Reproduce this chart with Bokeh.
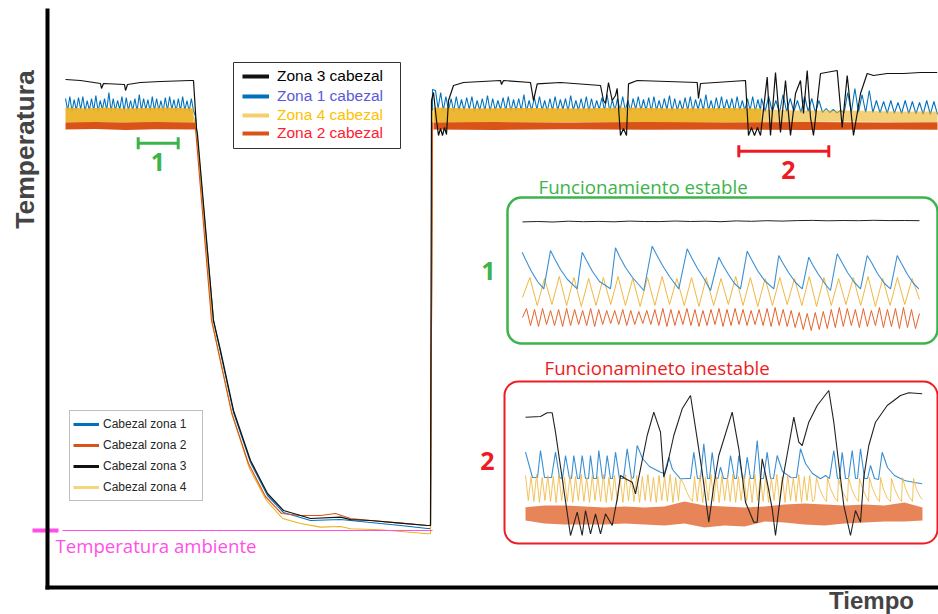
import numpy as np
from bokeh.plotting import figure
from bokeh.models import (Range1d, FixedTicker, Label, Legend, LegendItem,
                          BoxAnnotation, Whisker, TeeHead, ColumnDataSource)
from bokeh.embed import file_html
from bokeh.resources import INLINE

# ======================= DATA (time units / temperature) =======================
# Zona 3 cabezal (black) trace
z3_t = [20, 35, 55, 56, 58, 79, 80, 82, 95, 115, 145, 148, 151, 152, 168, 175, 188, 205, 222, 238,
        255, 265, 295, 305, 325, 355, 382, 385, 386, 388, 391, 393, 395, 397, 399, 401, 403, 408, 418, 455,
        456, 458, 485, 488, 491.7, 515, 555, 558, 560, 563, 566.7, 570, 571.7, 575, 578, 581, 583, 591.7, 651.7, 653,
        655, 700, 703, 706, 709, 712, 715, 721.7, 725, 730, 735, 740, 745, 750, 755, 758, 761.7, 765, 768, 775,
        791.7, 796.7, 801.7, 808, 815, 821.7, 828, 841.7, 858, 875, 891.7]
z3_T = [250.5, 250, 248.5, 246, 248.5, 248, 245, 248, 249, 249.5, 250, 250, 226, 223, 130, 115, 85, 60, 43.5, 35,
        32.5, 31, 31.7, 30.4, 30, 28.7, 27.5, 27.5, 240, 244, 230, 222.5, 226, 222.5, 226.5, 223, 240, 247.5, 249, 250,
        248, 250, 249, 240, 248.3, 249, 247.5, 240, 238.5, 249, 240, 242.5, 246, 222.5, 226, 222.5, 248.3, 250, 249, 241,
        248.5, 250, 222.5, 226.5, 222.5, 226.5, 222.5, 251.7, 222.5, 254, 224, 250, 222.5, 243.5, 250, 233.5, 255, 231.5, 222.5, 253.5,
        255, 226.5, 252.5, 222.5, 243.5, 253.5, 252.5, 253.5, 253.5, 254, 254]

# Zona 1 cabezal (blue): oscillation before the stop, cooling, oscillation after restart
z1_osc1_span = (20, 148)
z1_osc1_T = [241, 235, 242, 234.5, 240.5, 235, 241.5, 235.5, 242, 234.5, 240, 235, 241, 235, 242.5, 234.5,
             240, 235.5, 241, 235, 244, 234.5, 241, 235, 240, 235.5, 242, 234.5, 241.5, 235, 240, 235,
             241, 234.5, 243, 235, 241, 235.5, 240.5, 234.5, 242, 235, 241, 235, 240, 234.5, 241.5, 235,
             242, 235.5, 240.5, 234.5, 241, 235, 242, 235, 240, 234.5, 241, 235]
z1_drop_t = [150, 151, 168, 175, 188, 205, 222, 238, 255, 265, 295, 325, 355, 382, 385, 387]
z1_drop_T = [232, 226, 130, 114, 84, 59, 42.5, 34, 31.5, 30, 30.5, 29, 27.5, 26, 26, 245.5]
z1_osc2_span = (390, 715)
z1_osc2_T = [245, 236, 244, 235, 242, 235, 241, 234.5, 242, 235, 240.5, 235, 241.5, 235.5, 242, 234.5,
             240, 235, 241, 235, 242.5, 234.5, 241, 235, 240, 235.5, 241.5, 235, 242, 234.5, 240.5, 235,
             241, 235, 243, 234.5, 240, 235, 241.5, 235.5, 242, 235, 240, 234.5, 241, 235, 242, 235,
             240.5, 235.5, 241, 234.5, 242.5, 235, 240, 235, 241, 235, 242, 234.5, 241, 235, 240, 235.5,
             241.5, 235, 243, 234.5, 240.5, 235, 241, 235, 242, 235, 240, 234.5, 241, 235.5, 242, 235,
             240.5, 235, 241.5, 234.5, 242, 235, 240, 235, 241, 235.5, 242.5, 234.5, 241, 235, 240, 235,
             241.5, 235, 242, 234.5, 240.5, 235.5, 241, 235, 243, 235, 240, 234.5, 241.5, 235, 242, 235,
             240.5, 235.5, 241, 234.5, 242, 235, 240, 235, 241, 235, 242, 234.5, 240.5, 235]
z1_osc3_span = (716, 892)
z1_osc3_T = [241, 234.5, 242, 234.5, 240, 234, 243, 234.5, 241, 234.5, 240, 234, 242, 234.5, 241, 234,
             240, 234, 236, 234, 235.5, 233.8, 235, 233.8, 244, 234, 246, 234, 243, 234, 245, 234,
             240, 233.8, 239.5, 233.6, 240, 233.6, 239, 233.5, 240, 233.4, 239.5, 233.3, 239, 233.2,
             240, 233.1, 239.5, 233]

# Zona 4 cabezal (yellow): cooling trace + steady bands
z4_trace_t = [148, 150, 151, 167, 174, 187, 204, 221, 237, 255, 275, 295, 305, 335, 382, 385, 387]
z4_trace_T = [232, 228, 225, 129, 112.5, 82.5, 56, 40, 31, 28.5, 26.7, 27, 25.9, 25.4, 23.4, 23.5, 235]
z4_band1_t = [20, 40, 60, 80, 100, 120, 148]
z4_band1_hi = [236.5, 236, 236.5, 236, 236.3, 236.5, 236]
z4_band1_lo = [229, 228.8, 229.2, 229, 228.8, 229, 229]
z4_band2_t = [388, 430, 480, 530, 580, 630, 680, 716]
z4_band2_hi = [236.5, 236, 236.3, 236, 236.5, 236, 236.3, 236]
z4_band2_lo = [229, 228.8, 229, 229.2, 229, 228.8, 229, 229]
z4_band3_t = [716, 760, 800, 850, 892]
z4_band3_hi = [235.5, 235, 235, 234.5, 234.5]
z4_band3_lo = [229.3, 229.3, 229.5, 229.3, 229.3]

# Zona 2 cabezal (orange): cooling trace + steady bands
z2_trace_t = [148, 150, 166, 173, 186, 203, 220, 236, 255, 275, 290, 305, 325, 355, 382, 385, 387]
z2_trace_T = [228, 226, 130, 114, 84, 58.5, 42, 33.5, 32.5, 32.5, 33.5, 31, 30, 28.7, 27.5, 27.5, 229]
z2_band1_t = [20, 50, 80, 110, 150]
z2_band1_hi = [229, 229.3, 229, 229.2, 229]
z2_band1_lo = [225.5, 225.8, 225.3, 225.6, 225.5]
z2_band2_t = [388, 450, 520, 600, 680, 760, 840, 892]
z2_band2_hi = [229, 229.2, 229, 229.3, 229, 229.2, 229, 229.1]
z2_band2_lo = [225.5, 225.3, 225.6, 225.4, 225.5, 225.3, 225.5, 225.4]

ambient_temp = 25
ambient_window = (17, 387)
ambient_mark = (-13, 13)

# zoomed regions on the time axis and the level of their markers
region_start = [92.7, 693.3]
region_end = [132.7, 783.3]
region_level = [218.6, 214.6]

# ---- Inset 1: stable operation (local zoom units) ----
ins1_black_T = [121.6, 122.0, 121.5, 122.3, 121.8, 122.1, 121.7, 122.4, 122.0, 121.9, 122.5, 122.0, 122.3, 121.8,
                122.6, 122.2, 122.8, 122.4, 122.9, 123.1, 122.7, 123.0, 122.8, 123.2, 122.9, 123.0, 122.8]
ins1_blue_t = [14.7, 18, 24, 30, 36.3, 43, 47, 53, 60, 69.7, 74.7, 79, 85, 92, 103, 108, 112, 118, 125, 136.3,
               144.7, 149, 155, 162, 171.3, 179.7, 184, 190, 197, 203, 211.3, 215, 221, 227, 233, 239.7, 244, 250, 257, 266.3,
               271.3, 275, 281, 288, 294.7, 301.3, 305, 311, 318, 323, 329.7, 334, 340, 347, 353, 359.7, 364, 370, 377, 383,
               389.7, 394, 400, 406, 411.3]
ins1_blue_T = [91.3, 84, 72, 62, 54.7, 93, 85, 74, 64, 54.7, 91.3, 83, 72, 62, 54.7, 95.7, 87, 76, 66, 53,
               97.3, 89, 78, 67, 54.7, 94.7, 86, 75, 64, 53, 86.3, 79, 69, 60, 54.7, 92.3, 84, 73, 63, 54.7,
               88, 81, 71, 61, 54.7, 86.3, 79, 69, 59, 53, 89.7, 82, 71, 61, 54.7, 88, 81, 70, 60, 54.7,
               88, 80, 69, 60, 54.7]
ins1_yellow_T = [46, 66, 38, 65, 39, 67, 38, 66, 37, 65, 38, 66, 39, 67, 38, 65, 37, 66, 38, 67, 39, 65, 38, 66,
                 37, 66, 38, 65, 39, 67, 38, 66, 37, 65, 38, 66, 39, 65, 38, 67, 37, 66, 38, 65, 39, 66, 38, 67,
                 37, 65, 38, 66, 39, 65, 44]
ins1_orange_T = [26, 35, 18, 34, 17, 35, 19, 33, 18, 34, 17, 35, 18, 34, 19, 33, 18, 35, 17, 34, 19, 33, 20, 33,
                 19, 34, 18, 33, 19, 32, 20, 33, 19, 34, 18, 35, 17, 34, 18, 33, 19, 35, 18, 34, 17, 33, 18, 34,
                 19, 35, 17, 34, 18, 35, 19, 34, 18, 33, 19, 34, 18, 35, 17, 36, 18, 34, 17, 33, 16, 31, 14, 30,
                 13, 31, 14, 32, 15, 34, 16, 36, 17, 35, 18, 34, 16, 35, 17, 33, 18, 36, 16, 34, 17, 35, 15, 36,
                 16, 34, 15, 30]

# ---- Inset 2: unstable operation (local zoom units) ----
ins2_black_t = [21, 36, 42.7, 47.7, 51, 66, 72.7, 77.7, 81, 86, 91, 96, 101, 107.7, 112.7, 116, 121, 127.7, 131, 136,
                142.7, 149.3, 156, 159.3, 162.7, 169.3, 177.7, 186, 192.7, 197.7, 204.3, 209.3, 214.3, 227.7, 234.3,
                241, 249.3, 252.7, 257.7, 262.7, 267.7, 271, 277.7, 284.3, 289.3, 294.3, 297.7, 304.3, 312.7, 324.3,
                329.3, 339.3, 346, 351, 356, 359.3, 364.3, 371, 382.7, 396, 404.3, 417.7]
ins2_black_T = [126.3, 127, 130.7, 130.7, 111.3, 8, 31.3, 8, 33, 9.7, 29.7, 9.7, 29.7, 18, 44.7, 68, 64.7, 61.3, 49.7, 74.7,
                108, 131.3, 111.3, 66.3, 78, 108, 134.7, 148, 104.7, 71.3, 21.3, 58, 88, 131.3, 94.7,
                41.3, 21.3, 21.3, 84.7, 61.3, 34.7, 8, 61.3, 98, 126.3, 101.3, 98, 121.3, 138, 153,
                121.3, 38, 8, 33, 21.3, 66.3, 98, 121.3, 138, 148, 150.7, 149.7]
ins2_blue_t = [21, 28, 33, 36, 40, 47, 51, 55, 58, 61, 65, 67, 69.3, 73, 75, 77.7, 81, 84, 86, 89, 92, 94.3, 98, 100,
               102.7, 106, 108, 111, 115, 119, 122.7, 127, 129, 132.7, 138, 145, 156, 160, 164.3, 168, 176, 184, 186,
               189.3, 193, 196, 199.3, 203, 205, 207.7, 211, 213.5, 216, 219, 223, 226, 230, 232, 234.3, 238, 240,
               242.7, 246, 249, 252.7, 256, 259, 262.7, 266, 269, 272.7, 278, 286, 292, 296, 301, 308, 316, 321, 325,
               329.3, 333, 335, 337.7, 341, 344, 347.7, 351, 353, 356, 360, 363, 366, 370, 374, 377.7, 383, 390, 400,
               410, 417.7]
ins2_blue_T = [91.3, 66, 66, 93, 66, 66, 91.3, 66, 65, 88, 65, 65, 88, 65, 65, 88, 65, 65, 88, 65, 65, 93, 65, 65,
               88, 65, 65, 91.3, 65, 65, 94.7, 65, 66, 98, 85, 77, 71.3, 70, 86.3, 74, 64.7, 65, 65,
               91.3, 65, 65, 99.7, 65, 65, 91.3, 65, 65, 76.3, 65, 65, 88, 65, 65, 88, 65, 65,
               86.3, 65, 65, 103, 65, 65, 91.3, 65, 65, 88, 72, 66.3, 66, 94.7, 80, 70, 64.7, 68, 65,
               93, 65, 65, 91.3, 65, 65, 93, 65, 65, 94.7, 65, 65, 78, 65, 64, 91.3, 76, 68, 63,
               61, 59.7]
ins2_yel_a_span = (21, 174)
ins2_yel_a_T = [68, 43, 67, 42, 69, 41, 66, 43, 68, 42, 67, 41, 69, 43, 66, 42, 68, 41, 67, 43, 69, 42, 66, 41,
                68, 43, 67, 42, 69, 41, 66, 43, 68, 42, 67, 41, 69, 43, 66, 42, 68, 41, 67, 43, 69, 42, 66, 41,
                68, 43, 67, 42, 69, 41, 66, 43]
ins2_yel_b_t = [176, 179, 182, 185, 188]
ins2_yel_b_T = [65, 60, 52, 46, 42]
ins2_yel_c_span = (190, 308)
ins2_yel_c_T = [67, 42, 68, 41, 66, 43, 69, 42, 67, 41, 68, 43, 66, 42, 69, 41, 67, 43, 68, 42, 66, 41,
                69, 43, 67, 42, 68, 41, 66, 43, 69, 42, 67, 41, 68, 43, 66, 42, 69, 41, 67, 43, 68, 42]
ins2_yel_d_t = [310, 312, 315, 319, 322, 323, 326, 330, 333, 334, 337, 341, 343, 344, 347, 351, 354, 355, 358, 362,
                364, 365, 368, 372, 375, 376, 379, 383, 386, 387, 390, 394, 397, 398, 401, 405, 408, 409, 412, 416, 418]
ins2_yel_d_T = [44, 66, 55, 46, 42, 66, 55, 46, 42, 65, 54, 46, 42, 66, 55, 46, 42, 65, 55, 46,
                42, 66, 55, 46, 42, 66, 54, 45, 42, 65, 55, 46, 42, 66, 55, 46, 42, 65, 54, 46, 44]
ins2_orange_t = [21, 40, 60, 80, 100, 120, 140, 160, 180, 200, 220, 240, 260, 280, 300, 320, 340, 360, 380, 400, 418]
ins2_orange_hi = [36.3, 38, 38, 37, 36, 37, 36, 37, 42, 38, 37, 36, 37, 39, 40, 39, 38, 39, 38, 41, 36]
ins2_orange_lo = [23, 20, 19, 19, 19, 20, 19, 18, 20, 16, 18, 17, 22, 21, 19, 18, 20, 21, 22, 22, 23]

# ======================= STYLE =======================
BLUE, ORANGE, YELLOW, BLACK = "#0072BD", "#D95319", "#EDB120", "#111111"
GREEN, RED, MAGENTA = "#3cb44b", "#ed1c24", "#ff4fe6"

p = figure(width=938, height=614, x_range=Range1d(-45, 893), y_range=Range1d(-17, 290),
           output_backend="svg", toolbar_location=None, min_border=0)
p.grid.visible = False
p.outline_line_color = None
for ax in (p.xaxis[0], p.yaxis[0]):
    ax.ticker = FixedTicker(ticks=[])
    ax.axis_line_width = 4
    ax.axis_line_color = "black"
    ax.major_tick_line_color = None
    ax.minor_tick_line_color = None
    ax.major_tick_out = 0
    ax.major_tick_in = 0
    ax.minor_tick_out = 0
    ax.minor_tick_in = 0
    ax.major_label_text_font_size = "0px"
    ax.major_label_standoff = 0
p.xaxis.fixed_location = -3.5
p.yaxis.fixed_location = 2
p.xaxis.bounds = (0, 893)
p.yaxis.bounds = (-4.5, 286)

# ---- main chart ----
blue_t = (list(np.linspace(*z1_osc1_span, len(z1_osc1_T))) + z1_drop_t +
          list(np.linspace(*z1_osc2_span, len(z1_osc2_T))) + list(np.linspace(*z1_osc3_span, len(z1_osc3_T))))
blue_T = z1_osc1_T + z1_drop_T + z1_osc2_T + z1_osc3_T
p.line(blue_t, blue_T, line_color=BLUE, line_width=1.1)

p.varea(x=z4_band1_t, y1=z4_band1_lo, y2=z4_band1_hi, fill_color=YELLOW, fill_alpha=0.92)
p.varea(x=z4_band2_t, y1=z4_band2_lo, y2=z4_band2_hi, fill_color=YELLOW, fill_alpha=0.92)
p.varea(x=z4_band3_t, y1=z4_band3_lo, y2=z4_band3_hi, fill_color=YELLOW, fill_alpha=0.6)
p.line(z4_trace_t, z4_trace_T, line_color=YELLOW, line_width=1.1)

p.varea(x=z2_band1_t, y1=z2_band1_lo, y2=z2_band1_hi, fill_color=ORANGE)
p.varea(x=z2_band2_t, y1=z2_band2_lo, y2=z2_band2_hi, fill_color=ORANGE)
p.line(z2_trace_t, z2_trace_T, line_color=ORANGE, line_width=1.1)

p.line(z3_t, z3_T, line_color=BLACK, line_width=1.2)

# ambient temperature
p.segment(x0=[ambient_window[0]], y0=[ambient_temp], x1=[ambient_window[1]], y1=[ambient_temp],
          line_color=MAGENTA, line_width=1.2)
p.segment(x0=[ambient_mark[0]], y0=[ambient_temp], x1=[ambient_mark[1]], y1=[ambient_temp],
          line_color=MAGENTA, line_width=4)
p.add_layout(Label(x=10, y=17.5, text="Temperatura ambiente", text_color=MAGENTA, text_font="Open Sans",
                   text_font_size="18.6px", text_baseline="middle", text_align="left"))

# region markers
for i, col in enumerate([GREEN, RED]):
    src = ColumnDataSource(dict(base=[region_level[i]], lower=[region_start[i]], upper=[region_end[i]]))
    p.add_layout(Whisker(source=src, base="base", lower="lower", upper="upper", dimension="width",
                         line_color=col, line_width=3,
                         upper_head=TeeHead(size=12, line_color=col, line_width=3),
                         lower_head=TeeHead(size=12, line_color=col, line_width=3)))
p.add_layout(Label(x=112.3, y=209.5, text="1", text_color=GREEN, text_font="Open Sans", text_font_style="bold",
                   text_font_size="25px", text_align="center", text_baseline="middle"))
p.add_layout(Label(x=743, y=205.5, text="2", text_color=RED, text_font="Open Sans", text_font_style="bold",
                   text_font_size="25px", text_align="center", text_baseline="middle"))

# ---- inset 1 ----
p.add_layout(BoxAnnotation(left=462, right=892, top=191.5, bottom=118.5, fill_color=None, fill_alpha=0,
                           line_color=GREEN, line_alpha=1, line_width=2.5, border_radius=14))
p.add_layout(Label(x=493, y=197, text="Funcionamiento estable", text_color=GREEN, text_font="Open Sans",
                   text_font_size="18.7px", text_baseline="middle"))
p.add_layout(Label(x=443, y=155, text="1", text_color=GREEN, text_font="Open Sans", text_font_style="bold",
                   text_font_size="25px", text_align="center", text_baseline="middle"))
ins1 = p.subplot(x_source=Range1d(0, 430), y_source=Range1d(0, 146),
                 x_target=Range1d(462, 892), y_target=Range1d(118.5, 191.5))
ins1.line(list(np.linspace(15, 412, len(ins1_black_T))), ins1_black_T, line_color="#222222", line_width=1)
ins1.line(list(np.linspace(15, 412, len(ins1_yellow_T))), ins1_yellow_T, line_color="#F0B843", line_width=1)
ins1.line(list(np.linspace(15, 412, len(ins1_orange_T))), ins1_orange_T, line_color="#E4652E", line_width=1)
ins1.line(ins1_blue_t, ins1_blue_T, line_color="#3A8FD3", line_width=1.1)

# ---- inset 2 ----
p.add_layout(BoxAnnotation(left=459, right=892, top=99.5, bottom=18.5, fill_color=None, fill_alpha=0,
                           line_color=RED, line_alpha=1, line_width=2, border_radius=14))
p.add_layout(Label(x=499, y=106.5, text="Funcionamineto inestable", text_color=RED, text_font="Open Sans",
                   text_font_size="18.7px", text_baseline="middle"))
p.add_layout(Label(x=442, y=60, text="2", text_color=RED, text_font="Open Sans", text_font_style="bold",
                   text_font_size="25px", text_align="center", text_baseline="middle"))
ins2 = p.subplot(x_source=Range1d(0, 434), y_source=Range1d(0, 162),
                 x_target=Range1d(459, 893), y_target=Range1d(18.5, 99.5))
ins2.varea(x=ins2_orange_t, y1=ins2_orange_lo, y2=ins2_orange_hi, fill_color="#E2672E", fill_alpha=0.8)
ins2.line(ins2_blue_t, ins2_blue_T, line_color="#3A8FD3", line_width=1.1)
yel_t = (list(np.linspace(*ins2_yel_a_span, len(ins2_yel_a_T))) + ins2_yel_b_t +
         list(np.linspace(*ins2_yel_c_span, len(ins2_yel_c_T))) + ins2_yel_d_t)
yel_T = ins2_yel_a_T + ins2_yel_b_T + ins2_yel_c_T + ins2_yel_d_T
ins2.line(yel_t, yel_T, line_color="#F0B843", line_width=1, line_alpha=0.85)
ins2.line(ins2_black_t, ins2_black_T, line_color="#222222", line_width=1.1)

# ---- axis titles ----
p.add_layout(Label(x=-21, y=215.5, text="Temperatura", angle=np.pi / 2, text_font="Liberation Sans",
                   text_font_style="bold", text_font_size="26.5px", text_align="center", text_baseline="middle"))
p.add_layout(Label(x=826, y=-10, text="Tiempo", text_font="Liberation Sans", text_font_style="bold",
                   text_font_size="24px", text_align="center", text_baseline="middle"))

# ---- legends ----
top_names = ["Zona 3 cabezal", "Zona 1 cabezal", "Zona 4 cabezal", "Zona 2 cabezal"]
top_line_colors = [BLACK, BLUE, "#F5CF6E", ORANGE]
top_text_colors = ["#000000", "#5a5ad8", "#ffc000", "#ff2030"]
top_offsets = [529, 509, 490.5, 471.7]
p.add_layout(BoxAnnotation(left=188, right=355, top=259, bottom=216, fill_color="white", fill_alpha=1,
                           line_color="#333333", line_alpha=1, line_width=1))
for name, lc, tc, vy in zip(top_names, top_line_colors, top_text_colors, top_offsets):
    r = p.line([z3_t[0]], [z3_T[0]], line_color=lc, line_width=4)
    p.add_layout(Legend(items=[LegendItem(label=name, renderers=[r])], location=(242, vy),
                        padding=0, margin=0, spacing=0, glyph_width=27, glyph_height=18, label_height=18,
                        label_standoff=8, label_text_font="Liberation Sans", label_text_font_size="15.5px",
                        label_text_color=tc, border_line_color=None, background_fill_alpha=0))

bot_names = ["Cabezal zona 1", "Cabezal zona 2", "Cabezal zona 3", "Cabezal zona 4"]
bot_colors = [BLUE, ORANGE, BLACK, "#F7D37E"]
bot_items = []
for name, c in zip(bot_names, bot_colors):
    r = p.line([z3_t[0]], [z3_T[0]], line_color=c, line_width=3)
    bot_items.append(LegendItem(label=name, renderers=[r]))
p.add_layout(Legend(items=bot_items, location=(69, 113), padding=3, margin=0, spacing=1,
                    glyph_width=26, glyph_height=20, label_height=20, label_standoff=4, label_width=96,
                    label_text_font="Liberation Sans", label_text_font_size="12px", label_text_color="#262626",
                    border_line_color="#808080", border_line_width=1, background_fill_color="white"))

open("out.html", "w").write(file_html(p, INLINE))
